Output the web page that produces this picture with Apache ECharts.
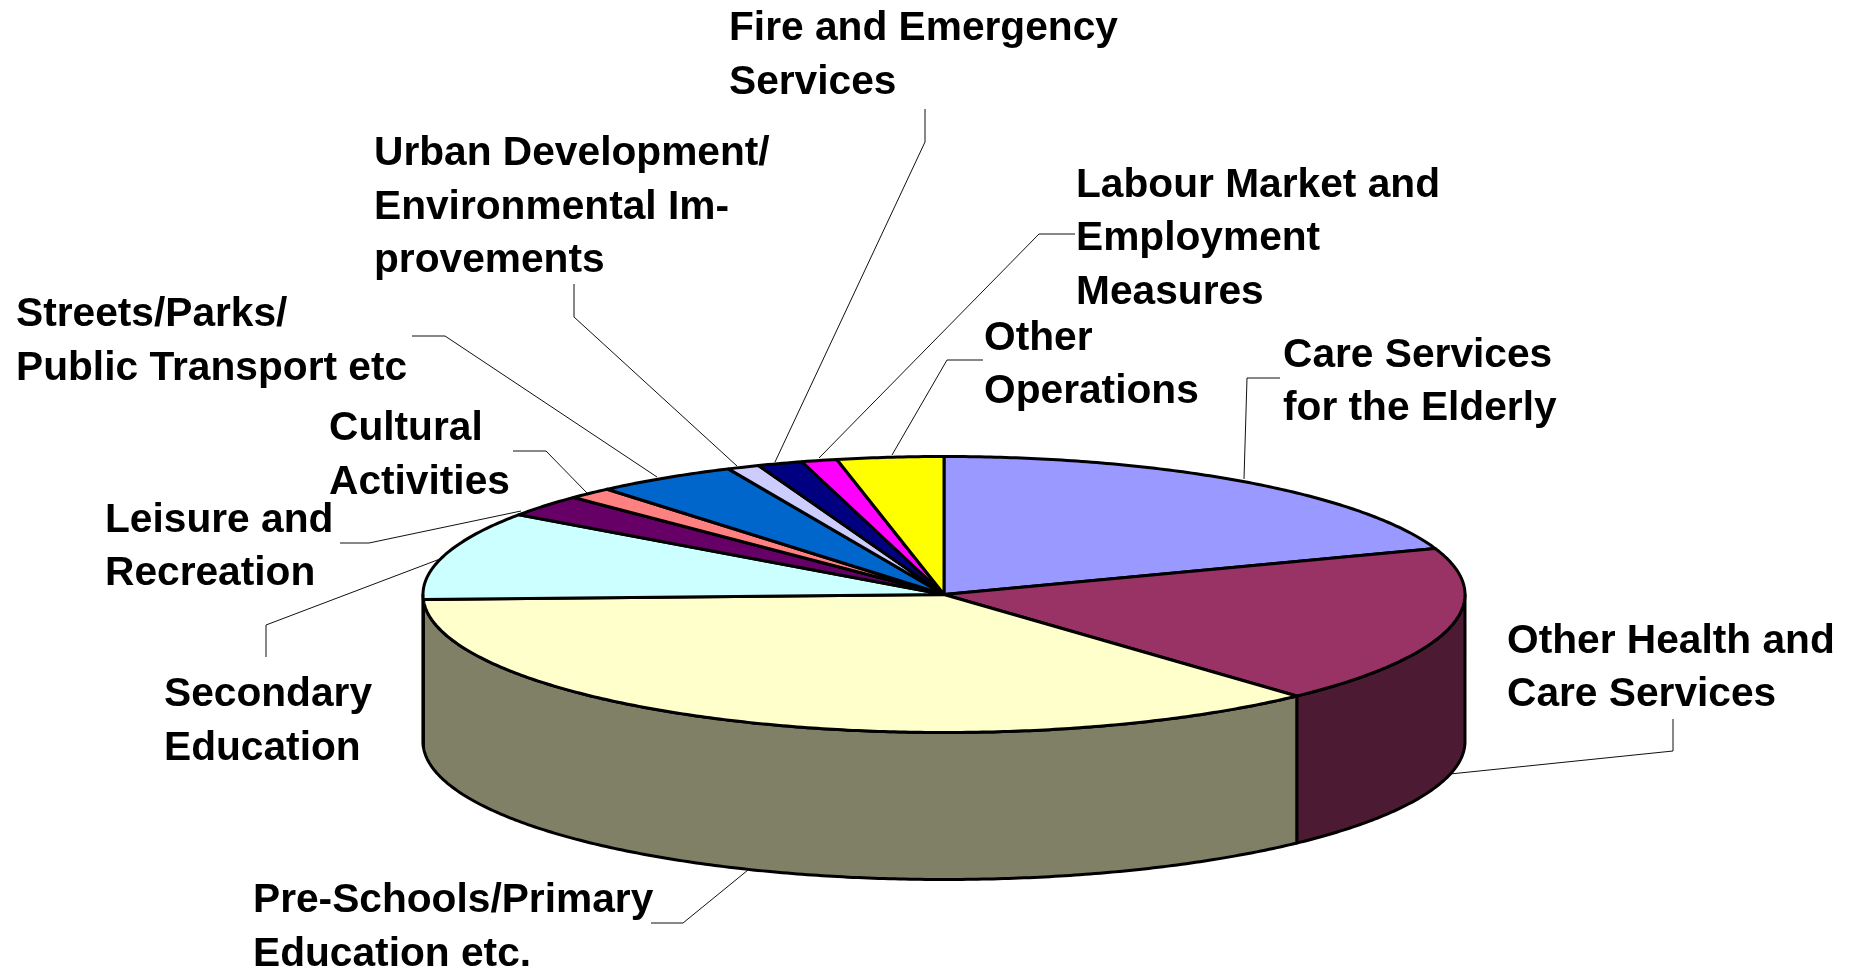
<!DOCTYPE html>
<html>
<head>
<meta charset="utf-8">
<title>Pie</title>
<script src="https://cdn.jsdelivr.net/npm/echarts@6/dist/echarts.min.js"></script>
<style>
html,body{margin:0;padding:0;background:#fff;}
#e_container{width:1856px;height:972px;}
</style>
</head>
<body>
<div id="e_container"></div>
<script>
//数据
var categories = ['Care Services\nfor the Elderly', 'Other Health and\nCare Services', 'Pre-Schools/Primary\nEducation etc.',
    'Secondary\nEducation', 'Leisure and\nRecreation', 'Cultural\nActivities', 'Streets/Parks/\nPublic Transport etc',
    'Urban Development/\nEnvironmental Im-\nprovements', 'Fire and Emergency\nServices', 'Labour Market and\nEmployment\nMeasures',
    'Other\nOperations'];
var values = [19.6, 18.6, 36.3, 10.4, 2.6, 1.4, 4.4, 1.0, 1.4, 1.1, 3.3];
var colors = ['#9999FF', '#993366', '#FFFFCC', '#CCFFFF', '#660066', '#FF8080', '#0066CC', '#CCCCFF', '#000080', '#FF00FF', '#FFFF00'];

//饼图的位置和大小
var cx = 944, cy = 594.5, rx = 521, ry = 138, depth = 147;

//标签位置 [左, 第一行中心y]
var labelPos = [[1283, 355.5], [1507, 641.5], [253, 901], [164, 695], [105, 520.5], [329, 429], [16, 315], [374, 154], [729, 29], [1076, 185.5], [984, 338.5]];
//引导线
var leaderLines = [
    [[1280, 378], [1247, 378], [1244, 479]],
    [[1673, 719], [1673, 751], [1450, 774]],
    [[651, 923], [683, 923], [748, 870]],
    [[266, 657], [266, 625], [440, 559]],
    [[340, 543], [369, 543], [521, 511]],
    [[513, 451], [546, 451], [587, 493]],
    [[412, 336], [445, 336], [657, 477]],
    [[574, 284], [574, 317], [737, 466]],
    [[925, 109], [925, 142], [775, 462]],
    [[1075, 234], [1039, 234], [819, 458]],
    [[983, 360], [947, 360], [892, 455]]
];

var total = 0;
for (var i = 0; i < values.length; i++) {
    total += values[i];
}
var pieData = [];
var sum = 0;
for (var i = 0; i < values.length; i++) {
    pieData.push([sum, sum + values[i], i]);
    sum += values[i];
}

// 从顶部顺时针的角度 -> 椭圆上的点
function pt(a, dy) {
    return [cx + rx * Math.sin(a), cy - ry * Math.cos(a) + dy];
}

function arc(a0, a1, dy) {
    var pts = [];
    var n = Math.max(2, Math.ceil((a1 - a0) / 0.01));
    for (var k = 0; k <= n; k++) {
        pts.push(pt(a0 + (a1 - a0) * k / n, dy));
    }
    return pts;
}

// 侧面颜色是顶面的一半亮度
function darken(color) {
    var c = echarts.color.parse(color);
    return 'rgb(' + Math.round(c[0] / 2) + ',' + Math.round(c[1] / 2) + ',' + Math.round(c[2] / 2) + ')';
}

function renderSlice(params, api) {
    var a0 = api.value(0) / total * Math.PI * 2;
    var a1 = api.value(1) / total * Math.PI * 2;
    var color = colors[api.value(2)];
    var children = [];
    // 侧面，只有前半圈看得到
    var s0 = Math.max(a0, Math.PI / 2);
    var s1 = Math.min(a1, Math.PI * 1.5);
    if (s1 > s0) {
        var side = arc(s0, s1, 0).concat(arc(s0, s1, depth).reverse());
        children.push({
            type: 'polygon',
            z2: 1,
            shape: {points: side},
            style: {fill: darken(color), stroke: '#000', lineWidth: 3, lineJoin: 'round'}
        });
    }
    var top = [[cx, cy]].concat(arc(a0, a1, 0));
    children.push({
        type: 'polygon',
        z2: 2,
        shape: {points: top},
        style: {fill: color, stroke: '#000', lineWidth: 3, lineJoin: 'round'}
    });
    return {type: 'group', children: children};
}

var graphics = [];
for (var i = 0; i < categories.length; i++) {
    graphics.push({
        type: 'polyline',
        shape: {points: leaderLines[i]},
        style: {fill: null, stroke: '#111', lineWidth: 1}
    });
    graphics.push({
        type: 'text',
        x: labelPos[i][0],
        y: labelPos[i][1] - 27,
        style: {
            text: categories[i],
            fill: '#000',
            font: 'bold 40.7px "Liberation Sans", Arial, sans-serif',
            lineHeight: 53.6,
            textAlign: 'left',
            textVerticalAlign: 'top'
        }
    });
}

var dom = document.getElementById("e_container");
var myChart = echarts.init(dom);
var option = {
    animation: false,
    backgroundColor: '#fff',
    graphic: graphics,
    series: [{
        type: 'custom',
        coordinateSystem: 'none',
        renderItem: renderSlice,
        data: pieData,
        silent: true
    }]
};
myChart.setOption(option, true);
</script>
</body>
</html>
